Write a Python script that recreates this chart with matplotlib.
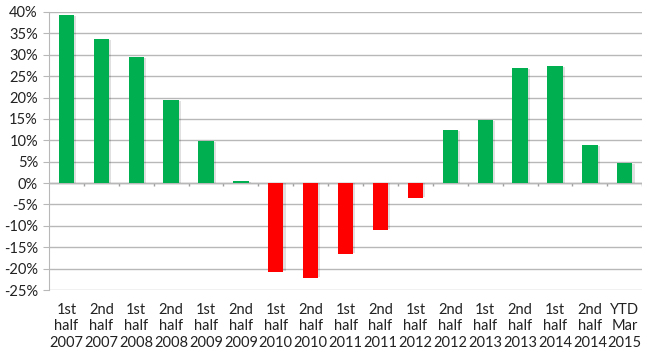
import matplotlib
import numpy as np

matplotlib.use("Agg")
import matplotlib.pyplot as plt
from matplotlib.ticker import FuncFormatter


periods = [
    "1st\nhalf\n2007", "2nd\nhalf\n2007", "1st\nhalf\n2008", "2nd\nhalf\n2008",
    "1st\nhalf\n2009", "2nd\nhalf\n2009", "1st\nhalf\n2010", "2nd\nhalf\n2010",
    "1st\nhalf\n2011", "2nd\nhalf\n2011", "1st\nhalf\n2012", "2nd\nhalf\n2012",
    "1st\nhalf\n2013", "2nd\nhalf\n2013", "1st\nhalf\n2014", "2nd\nhalf\n2014",
    "YTD\nMar\n2015",
]
returns = [
    39.3, 33.8, 29.5, 19.4, 9.9, 0.5, -20.9, -22.3, -16.5, -11.0,
    -3.4, 12.4, 14.7, 27.0, 27.4, 8.9, 4.6,
]

GREEN = "#00B050"
RED = "#FF0000"
GRID = "#B8B8B8"

plt.rcParams["font.family"] = ["Lato", "DejaVu Sans"]

fig = plt.figure(figsize=(6.5, 3.59), dpi=100)
ax = fig.add_axes([0.0754, 0.1922, 0.9126, 0.7744])

x = np.arange(len(returns))
values = np.array(returns)
colors = [GREEN if v >= 0 else RED for v in values]

# лёгкая тень как в excel
ax.bar(x + 0.06, values - np.sign(values) * 0.25, width=0.44,
       color="#000000", alpha=0.12, zorder=2, linewidth=0)
ax.bar(x, values, width=0.44, color=colors, zorder=3, linewidth=0)

ax.set_xlim(-0.5, len(returns) - 0.5)
ax.set_ylim(-25, 40)
ax.set_yticks(np.arange(-25, 41, 5))
ax.yaxis.set_major_formatter(FuncFormatter(lambda v, _: f"{v:.0f}%"))
ax.grid(axis="y", color=GRID, linewidth=1, zorder=0)

ax.set_xticks(x, periods, fontsize=10.5, linespacing=1.25)
ax.tick_params(axis="x", length=0, pad=9, colors="#222222")
ax.tick_params(axis="y", length=4, color=GRID, labelsize=10.5,
               colors="#222222", pad=4)
ax.tick_params(axis="y", colors=GRID, labelcolor="#222222")

for side in ["top", "right", "bottom"]:
    ax.spines[side].set_visible(False)
ax.spines["left"].set_color(GRID)

# линия нуля и засечки между категориями
ax.axhline(0, color="#A0A0A0", linewidth=1, zorder=1)
ax.vlines(x[:-1] + 0.5, -0.8, 0, color="#A0A0A0", linewidth=1, zorder=1)
ax.vlines([len(returns) - 0.5], -0.8, 0, color="#A0A0A0", linewidth=1, zorder=1)

fig.savefig("out.png", dpi=100)
